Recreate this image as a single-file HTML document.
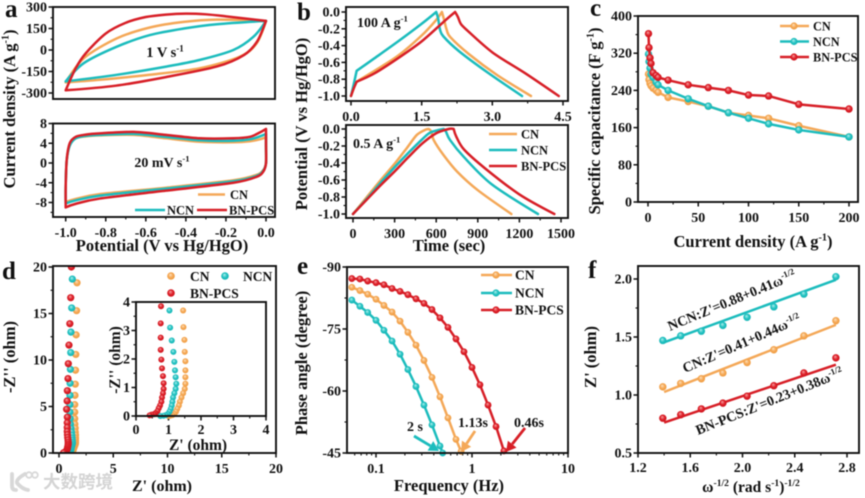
<!DOCTYPE html>
<html lang="en">
<head>
<meta charset="utf-8">
<title>Electrochemical performance panels</title>
<style>
html,body{margin:0;padding:0;background:#fff;width:865px;height:498px;overflow:hidden}
svg{display:block;filter:blur(0.45px)}
text{font-family:"Liberation Serif","Noto Serif CJK SC",serif;font-weight:bold;fill:#111}
</style>
</head>
<body>
<svg id="fig" xmlns="http://www.w3.org/2000/svg" width="865" height="498" viewBox="0 0 865 498">
<defs>
<radialGradient id="gCN" cx="50%" cy="50%" r="55%" fx="40%" fy="32%"><stop offset="0" stop-color="#fde2c0"/><stop offset=".55" stop-color="#f5a855"/><stop offset="1" stop-color="#ee9a3e"/></radialGradient>
<radialGradient id="gNCN" cx="50%" cy="50%" r="55%" fx="40%" fy="32%"><stop offset="0" stop-color="#b6f0ee"/><stop offset=".55" stop-color="#24c3c2"/><stop offset="1" stop-color="#13b1b3"/></radialGradient>
<radialGradient id="gBN" cx="50%" cy="50%" r="55%" fx="40%" fy="32%"><stop offset="0" stop-color="#f7a6a6"/><stop offset=".55" stop-color="#de1f28"/><stop offset="1" stop-color="#c9141d"/></radialGradient>
<clipPath id="clipD"><rect x="53" y="266" width="223" height="187"/></clipPath>
</defs>
</svg>
<script>
// ---------- panel a, top (1 V/s) ----------
const aTopCN_V=[-1,-.91,-.745,-.58,-.41,-.245,0,-.047,-.13,-.33,-.58,-.83,-1];
const aTopCN_I=[-226,-58,81,157,196,212,203,46,-46,-127,-173,-208,-226];
const aTopNCN_V=[-1,-.91,-.745,-.58,-.41,-.245,0,-.063,-.163,-.33,-.495,-.745,-1];
const aTopNCN_I=[-219,-92,23,104,150,180,203,92,0,-69,-115,-173,-219];
const aTopBN_V=[-1,-.95,-.9,-.8,-.7,-.6,-.5,-.4,-.3,-.2,-.1,0,-.045,-.11,-.245,-.5,-.75,-1];
const aTopBN_I=[-281,-127,-23,115,190,230,247,254,249,235,219,203,58,-35,-115,-189,-249,-281];
const aTopYTicks=[300,150,0,-150,-300];
// ---------- panel a, bottom (20 mV/s) ----------
const aBotV=[-1,-1,-.995,-.98,-.95,-.9,-.83,-.66,-.5,-.33,-.163,-.08,-.03,0,0,0,-.013,-.047,-.163,-.5,-.83,-.953,-1];
const aBotCN_I=[-7.9,-4.3,.5,3.7,5,5.4,5.6,5.7,5,4.3,4.2,4.4,4.8,5.2,3,0,-1.4,-2.4,-3.5,-5,-6.3,-7.3,-7.9];
const aBotNCN_I=[-8.2,-4.5,.5,3.5,5,5.5,5.7,5.9,5.3,4.6,4.5,4.8,5.4,5.9,3,0,-1.5,-2.6,-3.7,-5.2,-6.6,-7.6,-8.2];
const aBotBN_I=[-8.9,-4.8,.6,4,5.3,5.75,6,6.3,5.7,5,5,5.3,6.2,6.9,4,0,-1.7,-2.8,-4,-5.6,-7.2,-8.3,-9];
const aBotYTicks=[8,4,0,-4,-8];
const aXTicks=[-1,-.8,-.6,-.4,-.2,0];
// ---------- panel b, top (100 A/g) ----------
const bTopCN_t=[0,.05,.1,.5,1,1.5,1.8,1.93,1.97,2.03,2.11,2.5,3.1,3.82];
const bTopCN_v=[-1,-.92,-.84,-.7,-.52,-.28,-.1,0,-.08,-.21,-.3,-.5,-.75,-1];
const bTopNCN_t=[0,.05,.12,.5,1,1.5,1.81,1.85,1.89,1.96,2.3,2.9,3.63];
const bTopNCN_v=[-1,-.88,-.7,-.55,-.35,-.14,0,-.08,-.21,-.29,-.47,-.72,-1];
const bTopBN_t=[0,.05,.12,.5,1,1.5,2,2.21,2.27,2.33,2.45,3,3.7,4.41];
const bTopBN_v=[-1,-.92,-.83,-.73,-.55,-.35,-.1,0,-.06,-.14,-.21,-.48,-.73,-1];
const bYTicks=[0,-.2,-.4,-.6,-.8,-1];
const bTopXTicks=[0,1.5,3,4.5];
// ---------- panel b, bottom (0.5 A/g) ----------
const bBotCN_t=[0,100,200,300,390,460,520,546,565,582,650,750,900,1142];
const bBotCN_v=[-1,-.8,-.6,-.41,-.22,-.07,-.01,0,-.03,-.13,-.3,-.5,-.72,-1];
const bBotNCN_t=[0,100,200,300,400,500,560,654,670,700,800,1000,1334];
const bBotNCN_v=[-1,-.82,-.63,-.45,-.28,-.12,-.04,0,-.03,-.13,-.33,-.65,-1];
const bBotBN_t=[0,100,200,300,400,500,600,690,726,745,800,950,1200,1452];
const bBotBN_v=[-1,-.83,-.66,-.5,-.33,-.17,-.05,0,0,-.09,-.24,-.46,-.77,-1];
const bBotXTicks=[0,300,600,900,1200,1500];
// ---------- panel c ----------
const cCurrent=[.5,1,2,3,5,8,10,20,40,60,80,100,120,150,200];
const cCN=[275,263,255,250,245,240,236,225,216,206,192,186,180,164,140];
const cNCN=[318,302,288,275,268,258,252,240,222,206,192,180,168,155,140];
const cBN=[362,332,310,298,278,272,268,262,252,246,240,230,228,210,200];
const cYTicks=[400,320,240,160,80,0];
const cXTicks=[0,50,100,150,200];
// ---------- panel d (shared by main plot and inset) ----------
const dCN_re=[1.66,1.62,1.58,1.55,1.52,1.5,1.47,1.45,1.45,1.45,1.46,1.49,1.5,1.52,1.52,1.52,1.52,1.5,1.45,1.4,1.35,1.32,1.27,1.23,1.18,1.12,1.05,1.0];
const dCN_im=[18.3,15.3,12.7,10.6,8.9,7.4,6.2,5.2,4.4,3.7,3.12,2.67,2.25,1.92,1.6,1.36,1.13,.95,.8,.65,.5,.37,.25,.15,.07,.03,.01,0];
const dNCN_re=[1.23,1.17,1.1,1.08,1.05,1.02,1.01,1,1,1.03,1.05,1.1,1.15,1.18,1.2,1.22,1.24,1.22,1.18,1.14,1.12,1.1,1.07,1.03,.98,.92,.85,.75];
const dNCN_im=[18.7,15.6,13,10.8,9,7.5,6.2,5.2,4.4,3.7,3.1,2.65,2.25,1.9,1.6,1.36,1.13,.95,.8,.65,.5,.37,.25,.15,.07,.03,.01,0];
const dBN_re=[1.14,1.08,1,.92,.86,.83,.77,.75,.7,.77,.76,.76,.76,.78,.8,.83,.85,.85,.83,.8,.78,.74,.7,.66,.6,.55,.48,.42];
const dBN_im=[20,16.7,13.9,11.6,9.6,8,6.7,5.6,4.7,3.85,3.25,2.75,2.32,1.98,1.67,1.4,1.15,.95,.8,.65,.5,.37,.27,.17,.1,.06,.05,.02];
const dTicks=[0,5,10,15,20];
const dInsetTicks=[0,1,2,3,4];
// ---------- panel e ----------
const eFreq=[.056,.068,.082,.1,.121,.147,.178,.215,.261,.316,.383,.464,.562,.681,.825,1,1.21,1.47,1.78,2.15];
const eCNFreq=[.056,.068,.082,.1,.121,.147,.178,.215,.261,.316,.383,.464,.562,.681,.77];
const eNCNFreq=[.056,.068,.082,.1,.121,.147,.178,.215,.261,.316,.383,.464,.495];
const eBN=[-87.2,-87.1,-86.6,-86.2,-85.7,-84.8,-84.1,-83.3,-82.3,-81.2,-79.7,-77.7,-75.4,-72.6,-69.5,-65.7,-61.5,-56.6,-51.4,-45.5];
const eCN=[-85.1,-84.3,-83.4,-82.2,-80.7,-79.1,-76.9,-74.2,-71.1,-67.4,-63.3,-58.6,-53.5,-48.3,-45.4];
const eNCN=[-82,-80.5,-79,-77.1,-74.7,-72.1,-68.9,-65.2,-61.1,-56.6,-51.8,-46.7,-45];
const eYTicks=[-90,-75,-60,-45];
const eXTicks=[.1,1,10];
const eXMinor=[.06,.07,.08,.09,.2,.3,.4,.5,.6,.7,.8,.9,2,3,4,5,6,7,8,9];
// ---------- panel f ----------
const fOmega=[1.39,1.527,1.685,1.85,2.035,2.24,2.47,2.715];
const fNCN=[1.47,1.51,1.55,1.6,1.67,1.76,1.87,2.02];
const fCN=[1.07,1.1,1.14,1.19,1.28,1.39,1.51,1.64];
const fBN=[.8,.83,.88,.93,.99,1.08,1.19,1.32];
const fFitNCN=[.88,.41];
const fFitCN=[.41,.44];
const fFitBN=[.23,.38];
const fYTicks=[.5,1,1.5,2];
const fXTicks=[1.2,1.6,2,2.4,2.8];

const ORANGE='#f4a858',CYAN='#1cbcbd',RED='#d71f27';
const fig=document.getElementById('fig');
const NS='http://www.w3.org/2000/svg';

function mk(parent,tag,attrs,name){
  const el=document.createElementNS(NS,tag);
  for(const k in attrs)el.setAttribute(k,attrs[k]);
  
  
  parent.appendChild(el);
  return el;
}
function linear(d0,d1,r0,r1){return v=>r0+(v-d0)*(r1-r0)/(d1-d0);}
function logScale(d0,d1,r0,r1){return v=>r0+(Math.log10(v)-Math.log10(d0))*(r1-r0)/(Math.log10(d1)-Math.log10(d0));}
function label(parent,x,y,str,size,anchor,name,rot){
  const a={x:x,y:y,'font-size':size,'text-anchor':anchor||'start'};
  if(rot!==undefined)a.transform='rotate('+rot+' '+x+' '+y+')';
  const t=mk(parent,'text',a,name);
  t.textContent=str;
  return t;
}
// parts: strings; items wrapped as [str] are superscripts
function richLabel(parent,x,y,parts,size,anchor,name,rot){
  const a={x:x,y:y,'font-size':size,'text-anchor':anchor||'middle'};
  if(rot!==undefined)a.transform='rotate('+rot+' '+x+' '+y+')';
  const t=mk(parent,'text',a,name);
  let lift=0;
  parts.forEach(p=>{
    const s=document.createElementNS(NS,'tspan');
    const sup=Array.isArray(p);
    s.textContent=sup?p[0]:p;
    if(sup){s.setAttribute('font-size',size*.62);}
    const want=sup?-size*.38:0;
    s.setAttribute('dy',want-lift);
    lift=want;
    t.appendChild(s);
  });
  return t;
}
function frame(parent,l,t,r,b,name){
  mk(parent,'rect',{x:l,y:t,width:r-l,height:b-t,fill:'none',stroke:'#111','stroke-width':1.9},name);
}
function yAxis(parent,scale,x,ticks,fmt,minorStep,fs,lo,hi){
  ticks.forEach(v=>{
    mk(parent,'line',{x1:x-4.5,x2:x,y1:scale(v),y2:scale(v),stroke:'#111','stroke-width':1.5},'y-tick');
    label(parent,x-6,scale(v)+4.5,fmt(v),fs||14,'end','y-tick-label');
  });
  if(minorStep){
    for(let v=lo;v<=hi+1e-9;v+=minorStep){
      mk(parent,'line',{x1:x-2.5,x2:x,y1:scale(v),y2:scale(v),stroke:'#111','stroke-width':1.1},'y-minor-tick');
    }
  }
}
function xAxis(parent,scale,y,ticks,fmt,minorStep,fs,lo,hi,ly){
  ticks.forEach(v=>{
    mk(parent,'line',{y1:y,y2:y+4.5,x1:scale(v),x2:scale(v),stroke:'#111','stroke-width':1.5},'x-tick');
    label(parent,scale(v),ly||y+19,fmt(v),fs||14,'middle','x-tick-label');
  });
  if(minorStep){
    for(let v=lo;v<=hi+1e-9;v+=minorStep){
      mk(parent,'line',{y1:y,y2:y+2.5,x1:scale(v),x2:scale(v),stroke:'#111','stroke-width':1.1},'x-minor-tick');
    }
  }
}
// Catmull-Rom path that keeps sharp vertices sharp (no overshoot at loop corners and peaks)
function smooth(xs,ys,sx,sy,k){
  const p=xs.map((x,i)=>[sx(x),sy(ys[i])]);
  const t=k===undefined?.15:k;
  const n=p.length;
  const isCorner=i=>{
    if(i===0||i===n-1)return true;
    const a1=Math.atan2(p[i][1]-p[i-1][1],p[i][0]-p[i-1][0]);
    const a2=Math.atan2(p[i+1][1]-p[i][1],p[i+1][0]-p[i][0]);
    let d=Math.abs(a2-a1);
    if(d>Math.PI)d=2*Math.PI-d;
    return d>40*Math.PI/180;
  };
  const out=i=>isCorner(i)?[0,0]:[(p[i+1][0]-p[i-1][0])*t,(p[i+1][1]-p[i-1][1])*t];
  let d='M'+p[0][0].toFixed(2)+' '+p[0][1].toFixed(2);
  for(let i=0;i<n-1;i++){
    const h1=out(i),h2=out(i+1);
    d+=' C'+(p[i][0]+h1[0]).toFixed(2)+' '+(p[i][1]+h1[1]).toFixed(2)+' '+
      (p[i+1][0]-h2[0]).toFixed(2)+' '+(p[i+1][1]-h2[1]).toFixed(2)+' '+p[i+1][0].toFixed(2)+' '+p[i+1][1].toFixed(2);
  }
  return d;
}
function curve(parent,xs,ys,sx,sy,color,name,w,k){
  return mk(parent,'path',{d:smooth(xs,ys,sx,sy,k),fill:'none',stroke:color,'stroke-width':w||2.5,'stroke-linejoin':'round','stroke-linecap':'round'},name);
}
function points(parent,xs,ys,sx,sy,grad,r,name){
  xs.forEach((x,i)=>{
    mk(parent,'circle',{cx:sx(x),cy:sy(ys[i]),r:r,fill:'url(#'+grad+')'},name);
  });
}
function legendLine(parent,x1,x2,y,color,text,tx,fs,mx,grad){
  mk(parent,'line',{x1:x1,x2:x2,y1:y,y2:y,stroke:color,'stroke-width':2.6},'legend-line');
  if(mx!==undefined)mk(parent,'circle',{cx:mx,cy:y,r:3.6,fill:'url(#'+grad+')'},'legend-marker');
  label(parent,tx,y+4.5,text,fs||12.5,'start','legend-label');
}
function arrow(parent,x1,y1,x2,y2,color,name){
  const g=mk(parent,'g',{},name);
  const ang=Math.atan2(y2-y1,x2-x1),h=10,w=5.5;
  const bx=x2-h*Math.cos(ang),by=y2-h*Math.sin(ang);
  mk(g,'line',{x1:x1,y1:y1,x2:bx,y2:by,stroke:color,'stroke-width':2.8},'arrow-shaft');
  mk(g,'polygon',{points:x2+','+y2+' '+(bx-w*Math.sin(ang))+','+(by+w*Math.cos(ang))+' '+(bx+w*Math.sin(ang))+','+(by-w*Math.cos(ang)),fill:color},'arrow-head');
}
const f0=v=>String(v);
const f1=v=>v.toFixed(1);

// ---- panel letters ----
[['a',5,17],['b',297,20],['c',590,16],['d',2,279],['e',297,274],['f',588,278]].forEach(p=>{
  label(fig,p[1],p[2],p[0],25,'start','panel-letter-'+p[0]);
});

// ---- panel a top ----
{
  const g=mk(fig,'g',{},'panel-a-top');
  const sx=linear(-1,0,65.7,266),sy=linear(0,300,50,7);
  yAxis(g,sy,53,aTopYTicks,f0,75,14,-300,300);
  curve(g,aTopCN_V,aTopCN_I,sx,sy,ORANGE,'cn-cv-1v');
  curve(g,aTopNCN_V,aTopNCN_I,sx,sy,CYAN,'ncn-cv-1v');
  curve(g,aTopBN_V,aTopBN_I,sx,sy,RED,'bn-pcs-cv-1v');
  frame(g,53,7,275,99,'plot-frame');
  richLabel(g,165,57,['1 V s',['-1']],14.5,'middle','scan-rate-label');
}
// ---- panel a bottom ----
{
  const g=mk(fig,'g',{},'panel-a-bottom');
  const sx=linear(-1,0,65.7,266),sy=linear(0,8,163,123.5);
  yAxis(g,sy,53,aBotYTicks,f0,2,14,-10,8);
  xAxis(g,sx,217,aXTicks,f1,.1,14,-1,0,237);
  curve(g,aBotV,aBotCN_I,sx,sy,ORANGE,'cn-cv-20mv');
  curve(g,aBotV,aBotNCN_I,sx,sy,CYAN,'ncn-cv-20mv');
  curve(g,aBotV,aBotBN_I,sx,sy,RED,'bn-pcs-cv-20mv');
  frame(g,53,123.5,275,217,'plot-frame');
  richLabel(g,162,167,['20 mV s',['-1']],14,'middle','scan-rate-label');
  legendLine(g,198,225,194.5,ORANGE,'CN',230,12.5);
  legendLine(g,135,165,210,CYAN,'NCN',167,12.5);
  legendLine(g,197,227,210,RED,'BN-PCS',229,12.5);
  label(g,162,251,'Potential (V vs Hg/HgO)',16.5,'middle','x-axis-title');
  richLabel(g,15,109,['Current density (A g',['-1'],')'],16.5,'middle','y-axis-title',-90);
}
// ---- panel b top ----
{
  const g=mk(fig,'g',{},'panel-b-top');
  const sx=linear(0,4.5,351,563),sy=linear(0,-1,12,96);
  yAxis(g,sy,346,bYTicks,f1,.1,14,-1,0);
  xAxis(g,sx,101,bTopXTicks,f1,.75,14,0,4.5,121);
  curve(g,bTopCN_t,bTopCN_v,sx,sy,ORANGE,'cn-gcd-100a');
  curve(g,bTopNCN_t,bTopNCN_v,sx,sy,CYAN,'ncn-gcd-100a');
  curve(g,bTopBN_t,bTopBN_v,sx,sy,RED,'bn-pcs-gcd-100a');
  frame(g,346,7,568,101,'plot-frame');
  richLabel(g,357,27,['100 A g',['-1']],14,'start','current-density-label');
}
// ---- panel b bottom ----
{
  const g=mk(fig,'g',{},'panel-b-bottom');
  const sx=linear(0,1500,353,561),sy=linear(0,-1,129,214);
  yAxis(g,sy,346,bYTicks,f1,.1,14,-1,0);
  xAxis(g,sx,218,bBotXTicks,f0,150,14,0,1500,238);
  curve(g,bBotCN_t,bBotCN_v,sx,sy,ORANGE,'cn-gcd-05a');
  curve(g,bBotNCN_t,bBotNCN_v,sx,sy,CYAN,'ncn-gcd-05a');
  curve(g,bBotBN_t,bBotBN_v,sx,sy,RED,'bn-pcs-gcd-05a');
  frame(g,346,125,568,218,'plot-frame');
  richLabel(g,353,148,['0.5 A g',['-1']],14,'start','current-density-label');
  legendLine(g,489,517,134,ORANGE,'CN',521,12.5);
  legendLine(g,489,517,150,CYAN,'NCN',521,12.5);
  legendLine(g,489,517,166,RED,'BN-PCS',521,12.5);
  label(g,449,251,'Time (sec)',16.5,'middle','x-axis-title');
  label(g,307,124,'Potential (V vs Hg/HgO)',16.5,'middle','y-axis-title',-90);
}
// ---- panel c ----
{
  const g=mk(fig,'g',{},'panel-c');
  const sx=linear(0,200,648,849),sy=linear(0,400,202,16);
  yAxis(g,sy,638,cYTicks,f0,40,14,0,400);
  xAxis(g,sx,202,cXTicks,f0,25,14,0,200,222);
  curve(g,cCurrent,cCN,sx,sy,ORANGE,'cn-line',2.5,0);
  points(g,cCurrent,cCN,sx,sy,'gCN',3.7,'cn-point');
  curve(g,cCurrent,cNCN,sx,sy,CYAN,'ncn-line',2.5,0);
  points(g,cCurrent,cNCN,sx,sy,'gNCN',3.7,'ncn-point');
  curve(g,cCurrent,cBN,sx,sy,RED,'bn-pcs-line',2.5,0);
  points(g,cCurrent,cBN,sx,sy,'gBN',3.7,'bn-pcs-point');
  frame(g,638,16,858,202,'plot-frame');
  legendLine(g,780,809,26,ORANGE,'CN',813,12.3,794,'gCN');
  legendLine(g,780,809,41.5,CYAN,'NCN',813,12.3,794,'gNCN');
  legendLine(g,780,809,57,RED,'BN-PCS',813,12.3,794,'gBN');
  richLabel(g,753,247,['Current density (A g',['-1'],')'],16.5,'middle','x-axis-title');
  richLabel(g,600,121,['Specific capacitance (F g',['-1'],')'],16.5,'middle','y-axis-title',-90);
}
// ---- panel d ----
{
  const g=mk(fig,'g',{},'panel-d');
  const sx=linear(0,20,59,276),sy=linear(0,20,453,267);
  yAxis(g,sy,53,dTicks,f0,2.5,14,0,20);
  xAxis(g,sx,453,dTicks,f0,2.5,14,0,20,473);
  const pg=mk(g,'g',{'clip-path':'url(#clipD)'},'nyquist-points');
  points(pg,dCN_re,dCN_im,sx,sy,'gCN',3.6,'cn-nyquist-point');
  points(pg,dNCN_re,dNCN_im,sx,sy,'gNCN',3.6,'ncn-nyquist-point');
  points(pg,dBN_re,dBN_im,sx,sy,'gBN',3.6,'bn-pcs-nyquist-point');
  frame(g,53,266,276,453,'plot-frame');
  mk(g,'circle',{cx:171,cy:276,r:3.8,fill:'url(#gCN)'},'legend-marker');
  label(g,190,281,'CN',13.5,'start','legend-label');
  mk(g,'circle',{cx:225,cy:276,r:3.8,fill:'url(#gNCN)'},'legend-marker');
  label(g,243,281,'NCN',13.5,'start','legend-label');
  mk(g,'circle',{cx:171,cy:293,r:3.8,fill:'url(#gBN)'},'legend-marker');
  label(g,190,298,'BN-PCS',13.5,'start','legend-label');
  label(g,162,491,"Z' (ohm)",16,'middle','x-axis-title');
  label(g,15,357,"-Z'' (ohm)",16.5,'middle','y-axis-title',-90);
  // inset
  const ig=mk(g,'g',{},'panel-d-inset');
  const ix=linear(0,4,136,266),iy=linear(0,4,416,302);
  yAxis(ig,iy,136,dInsetTicks,f0,.5,14,0,4);
  xAxis(ig,ix,416,dInsetTicks,f0,.5,14,0,4,434);
  const keep=(a,b)=>a.filter((_,i)=>b[i]<=3.9);
  points(ig,keep(dCN_re,dCN_im),keep(dCN_im,dCN_im),ix,iy,'gCN',3,'cn-inset-point');
  points(ig,keep(dNCN_re,dNCN_im),keep(dNCN_im,dNCN_im),ix,iy,'gNCN',3,'ncn-inset-point');
  points(ig,keep(dBN_re,dBN_im),keep(dBN_im,dBN_im),ix,iy,'gBN',3,'bn-pcs-inset-point');
  frame(ig,136,302,266,416,'inset-frame');
  label(ig,198,450,"Z' (ohm)",15.5,'middle','inset-x-axis-title');
  label(ig,120,360,"-Z'' (ohm)",15.5,'middle','inset-y-axis-title',-90);
}
// ---- panel e ----
{
  const g=mk(fig,'g',{},'panel-e');
  const sx=logScale(.1,10,376,568),sy=linear(-90,-45,267,453);
  yAxis(g,sy,347,eYTicks,f0,7.5,14,-90,-45);
  eXTicks.forEach(v=>{
    mk(g,'line',{x1:sx(v),x2:sx(v),y1:453,y2:457.5,stroke:'#111','stroke-width':1.5},'x-tick');
    label(g,sx(v),473,String(v),14,'middle','x-tick-label');
  });
  eXMinor.forEach(v=>{
    mk(g,'line',{x1:sx(v),x2:sx(v),y1:453,y2:455.5,stroke:'#111','stroke-width':1.1},'x-minor-tick');
  });
  curve(g,eCNFreq,eCN,sx,sy,ORANGE,'cn-phase-line',2.5,0);
  points(g,eCNFreq,eCN,sx,sy,'gCN',3.4,'cn-phase-point');
  curve(g,eNCNFreq,eNCN,sx,sy,CYAN,'ncn-phase-line',2.5,0);
  points(g,eNCNFreq,eNCN,sx,sy,'gNCN',3.4,'ncn-phase-point');
  curve(g,eFreq,eBN,sx,sy,RED,'bn-pcs-phase-line',2.5,0);
  points(g,eFreq,eBN,sx,sy,'gBN',3.4,'bn-pcs-phase-point');
  frame(g,347,267,568,453,'plot-frame');
  legendLine(g,481,512,275,ORANGE,'CN',515,13.5,496,'gCN');
  legendLine(g,481,512,293,CYAN,'NCN',515,13.5,496,'gNCN');
  legendLine(g,481,512,310,RED,'BN-PCS',515,13.5,496,'gBN');
  label(g,407,431,'2 s',14,'start','ncn-time-constant');
  label(g,458,427,'1.13s',14,'start','cn-time-constant');
  label(g,514,427,'0.46s',14,'start','bn-pcs-time-constant');
  arrow(g,414,436,439,451,CYAN,'ncn-arrow');
  arrow(g,475,431,461,452,ORANGE,'cn-arrow');
  arrow(g,525,428,506,452,RED,'bn-pcs-arrow');
  label(g,449,491,'Frequency (Hz)',16.5,'middle','x-axis-title');
  label(g,307,363,'Phase angle (degree)',16.5,'middle','y-axis-title',-90);
}
// ---- panel f ----
{
  const g=mk(fig,'g',{},'panel-f');
  const sx=linear(1.2,2.8,638,847),sy=linear(.5,2,453,279);
  yAxis(g,sy,638,fYTicks,f1,.25,14,.5,2);
  xAxis(g,sx,453,fXTicks,f1,.2,14,1.2,2.8,472);
  const fit=(c,x)=>c[0]+c[1]*x;
  const xa=fOmega[0]+.01,xb=fOmega[fOmega.length-1];
  mk(g,'line',{x1:sx(xa),x2:sx(xb),y1:sy(fit(fFitNCN,xa)),y2:sy(fit(fFitNCN,xb)),stroke:CYAN,'stroke-width':2.5},'ncn-fit-line');
  mk(g,'line',{x1:sx(xa),x2:sx(xb),y1:sy(fit(fFitCN,xa)),y2:sy(fit(fFitCN,xb)),stroke:ORANGE,'stroke-width':2.5},'cn-fit-line');
  mk(g,'line',{x1:sx(xa),x2:sx(xb),y1:sy(fit(fFitBN,xa)),y2:sy(fit(fFitBN,xb)),stroke:RED,'stroke-width':2.5},'bn-pcs-fit-line');
  points(g,fOmega,fNCN,sx,sy,'gNCN',3.7,'ncn-point');
  points(g,fOmega,fCN,sx,sy,'gCN',3.7,'cn-point');
  points(g,fOmega,fBN,sx,sy,'gBN',3.7,'bn-pcs-point');
  frame(g,638,266,859,453,'plot-frame');
  richLabel(g,670,331,["NCN:Z'=0.88+0.41ω",['-1/2']],14,'start','ncn-fit-equation',-22.5);
  richLabel(g,685,373,["CN:Z'=0.41+0.44ω",['-1/2']],14,'start','cn-fit-equation',-23.5);
  richLabel(g,698,435,["BN-PCS:Z'=0.23+0.38ω",['-1/2']],14,'start','bn-pcs-fit-equation',-22);
  richLabel(g,751,492,['ω',['-1/2'],' (rad s',['-1'],')',['-1/2']],15.5,'middle','x-axis-title');
  label(g,596,357,"Z' (ohm)",16.5,'middle','y-axis-title',-90);
}
// ---- watermark ----
{
  const g=mk(fig,'g',{},'watermark');
  mk(g,'path',{d:'M12 474 L12 486 Q12 490 16 490 M25 474 Q16 479 17 483 Q22 489 28 490',fill:'none',stroke:'#d8d8d8','stroke-width':3.8,'stroke-linecap':'round'},'watermark-logo-k');
  mk(g,'circle',{cx:29,cy:475,r:2.8,fill:'none',stroke:'#d8d8d8','stroke-width':1.8},'watermark-logo-dot');
  mk(g,'circle',{cx:35,cy:475,r:2.8,fill:'none',stroke:'#d8d8d8','stroke-width':1.8},'watermark-logo-dot');
  const t=label(g,43,488,'大数跨境',17.5,'start','watermark-text');
  t.style.fill='#d4d4d4';
  t.style.fontFamily='"Noto Sans CJK SC",sans-serif';
  t.style.fontWeight='700';
}
</script>
</body>
</html>
